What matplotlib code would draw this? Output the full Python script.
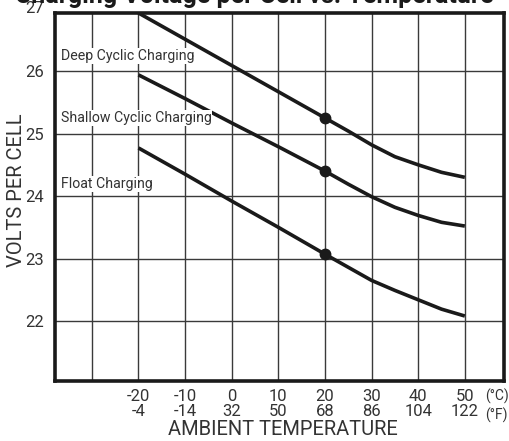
import matplotlib
matplotlib.use('Agg')
import matplotlib.pyplot as plt
import matplotlib.transforms as mtransforms

# tick temperatures (deg C) and the matching deg F labels
temp_c = [-20, -10, 0, 10, 20, 30, 40, 50]
temp_f = [-4, -14, 32, 50, 68, 86, 104, 122]
grid_x = [-30, -20, -10, 0, 10, 20, 30, 40, 50]
volt_ticks = [22, 23, 24, 25, 26]

# volts per cell
curve_t = [-20, -10, 0, 10, 20, 25, 30, 35, 40, 45, 50]
deep = [26.93, 26.51, 26.09, 25.67, 25.25, 25.04, 24.82, 24.63, 24.50, 24.38, 24.30]
shallow = [25.94, 25.56, 25.17, 24.79, 24.40, 24.19, 23.99, 23.82, 23.69, 23.58, 23.52]
floatc = [24.77, 24.35, 23.92, 23.50, 23.07, 22.86, 22.65, 22.49, 22.34, 22.19, 22.08]

dot_t = 20
names = ['Deep Cyclic Charging', 'Shallow Cyclic Charging', 'Float Charging']
name_y = [26.24, 25.25, 24.19]

plt.rcParams['font.family'] = ['Roboto', 'DejaVu Sans']
ink = '#333333'

fig = plt.figure(figsize=(5.09, 4.41), dpi=100)
ax = fig.add_axes([55 / 509, 1 - 381 / 441, 449 / 509, 368 / 441])

ax.set_xlim(-37.9, 58.4)
ax.set_ylim(21.04, 26.93)

for g in grid_x:
    ax.axvline(g, color='#3a3a3a', lw=1.0, zorder=1)
for v in volt_ticks:
    ax.axhline(v, color='#3a3a3a', lw=1.0, zorder=1)

for curve in (deep, shallow, floatc):
    ax.plot(curve_t, curve, color='#1a1a1a', lw=2.6, solid_capstyle='butt',
            solid_joinstyle='round', zorder=3)
    ax.plot(dot_t, curve[curve_t.index(dot_t)], 'o', color='#1a1a1a', ms=7.5, zorder=4)

for n, y in zip(names, name_y):
    ax.text(-36.7, y, n, fontsize=10.2, color=ink, va='center', ha='left', zorder=5,
            bbox=dict(facecolor='white', edgecolor='none', pad=0.6))

for s in ax.spines.values():
    s.set_linewidth(2.6)
    s.set_color('#1a1a1a')

ax.set_xticks(temp_c)
ax.set_xticklabels(['%d\n%d' % (c, f) for c, f in zip(temp_c, temp_f)],
                   fontsize=12, color=ink, linespacing=0.95)
ax.set_yticks(volt_ticks)
ax.set_yticklabels([str(v) for v in volt_ticks], fontsize=12, color=ink)
ax.tick_params(length=0)
ax.tick_params(axis='x', pad=6)
ax.tick_params(axis='y', pad=8)

# unit labels to the right of the last tick
tx = mtransforms.blended_transform_factory(ax.transData, ax.transAxes)
ax.text(54.4, -0.0215, '(°C)\n(°F)', transform=tx, ha='left', va='top', fontsize=10,
        color=ink, linespacing=1.25, clip_on=False)

# "27" sits on the top border
ty = mtransforms.blended_transform_factory(ax.transAxes, ax.transData)
ax.text(-0.024, 27, '27', transform=ty, ha='right', va='center', fontsize=12,
        color=ink, clip_on=False)

ax.set_xlabel('AMBIENT TEMPERATURE', fontsize=14.5, color=ink)
ax.xaxis.set_label_coords(0.508, -0.107)
ax.set_ylabel('VOLTS PER CELL', fontsize=14.5, color=ink)
ax.yaxis.set_label_coords(-0.064, 0.519)

fig.text(0.969, 1 - 2.5 / 441, 'Charging Voltage per Cell vs. Temperature', ha='right',
         va='baseline', fontsize=18, fontweight='bold', color='#1a1a1a')

fig.savefig('out.png', dpi=100, facecolor='white')
